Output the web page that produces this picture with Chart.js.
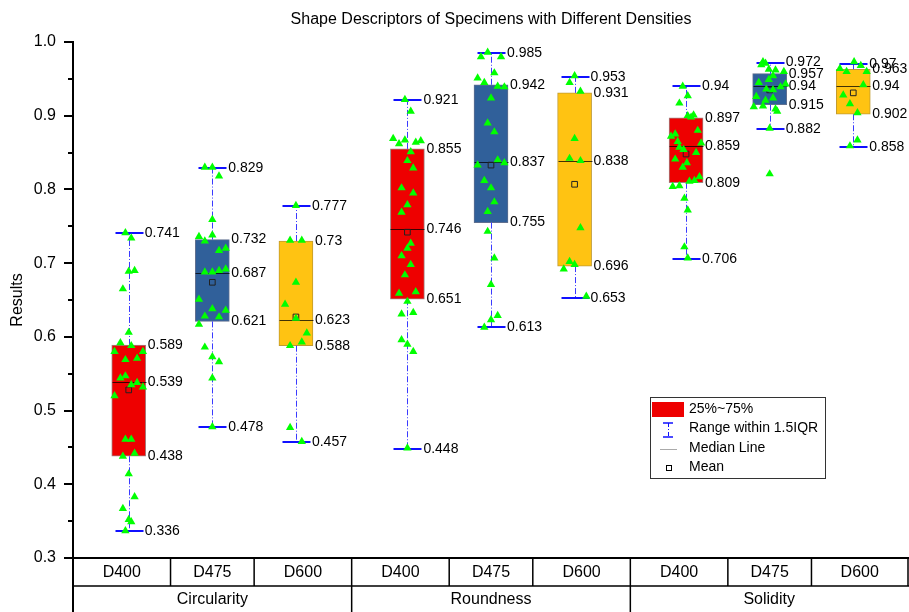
<!DOCTYPE html>
<html>
<head>
<meta charset="utf-8">
<script src="https://cdn.jsdelivr.net/npm/chart.js@4.4.1/dist/chart.umd.min.js"></script>
<style>
  html, body { margin: 0; padding: 0; background: #fff; }
</style>
</head>
<body>
<canvas id="boxChart" width="909" height="612"></canvas>
<script>
// categories
const groupNames = ['Circularity', 'Roundness', 'Solidity'];
const densityNames = ['D400', 'D475', 'D600'];

// box statistics, one value per box (group by group, D400/D475/D600)
const whiskerLow  = [0.336, 0.478, 0.457, 0.448, 0.613, 0.653, 0.706, 0.882, 0.858];
const q1          = [0.438, 0.621, 0.588, 0.651, 0.755, 0.696, 0.809, 0.915, 0.902];
const median      = [0.539, 0.687, 0.623, 0.746, 0.837, 0.838, 0.859, 0.94, 0.94];
const q3          = [0.589, 0.732, 0.73, 0.855, 0.942, 0.931, 0.897, 0.957, 0.963];
const whiskerHigh = [0.741, 0.829, 0.777, 0.921, 0.985, 0.953, 0.94, 0.972, 0.97];
const means       = [0.528, 0.674, 0.627, 0.742, 0.833, 0.807, 0.848, 0.935, 0.931];

// raw measurements drawn as triangles
const samples = [
  [0.741, 0.734, 0.689, 0.690, 0.665, 0.606, 0.592, 0.588, 0.580, 0.580, 0.569, 0.571, 0.544, 0.547,
   0.535, 0.538, 0.532, 0.520, 0.461, 0.461, 0.438, 0.442, 0.414, 0.383, 0.367, 0.352, 0.349, 0.337],
  [0.830, 0.830, 0.818, 0.759, 0.736, 0.738, 0.730, 0.717, 0.720, 0.688, 0.688, 0.690, 0.692, 0.651,
   0.638, 0.636, 0.628, 0.627, 0.617, 0.586, 0.573, 0.566, 0.544, 0.478],
  [0.778, 0.731, 0.731, 0.674, 0.644, 0.625, 0.605, 0.593, 0.588, 0.477, 0.458],
  [0.922, 0.906, 0.869, 0.862, 0.867, 0.864, 0.866, 0.851, 0.839, 0.829, 0.802, 0.795, 0.779, 0.769,
   0.727, 0.720, 0.710, 0.698, 0.684, 0.659, 0.661, 0.648, 0.631, 0.633, 0.596, 0.590, 0.580, 0.449],
  [0.980, 0.986, 0.980, 0.958, 0.951, 0.945, 0.940, 0.939, 0.924, 0.890, 0.878, 0.833, 0.840, 0.836,
   0.812, 0.802, 0.783, 0.770, 0.743, 0.707, 0.671, 0.629, 0.623, 0.613],
  [0.954, 0.945, 0.933, 0.869, 0.842, 0.839, 0.748, 0.702, 0.698, 0.692, 0.655],
  [0.940, 0.927, 0.917, 0.900, 0.901, 0.898, 0.880, 0.872, 0.875, 0.865, 0.863, 0.857, 0.854, 0.850,
   0.841, 0.836, 0.830, 0.817, 0.811, 0.812, 0.804, 0.805, 0.788, 0.772, 0.722, 0.707],
  [0.973, 0.971, 0.969, 0.963, 0.962, 0.960, 0.954, 0.949, 0.945, 0.943, 0.939, 0.936, 0.935, 0.926,
   0.921, 0.924, 0.912, 0.913, 0.909, 0.906, 0.883, 0.821],
  [0.973, 0.968, 0.964, 0.960, 0.960, 0.942, 0.928, 0.916, 0.904, 0.867, 0.859]
];

// horizontal spread of the triangles around each box centre (x-axis units)
const jitter = [
  [-0.04, 0.03, 0, 0.07, -0.07, 0, -0.10, 0.03, -0.17, 0.17, -0.04, 0.10, -0.10, -0.04,
   0.03, 0.10, 0.17, -0.17, -0.04, 0.03, -0.07, 0.07, 0, 0.07, -0.07, 0, 0.03, -0.04],
  [-0.09, 0, 0.08, 0, -0.16, 0, -0.09, 0.08, 0.16, -0.09, 0, 0.08, 0.16, -0.16,
   0, 0.16, -0.09, 0.08, -0.16, -0.09, 0, 0.08, 0, 0],
  [0, -0.07, 0.07, 0, -0.13, 0, 0.13, 0.07, -0.07, -0.07, 0.07],
  [-0.03, 0.04, -0.17, -0.10, -0.03, 0.10, 0.16, 0.04, 0, 0.07, -0.07, 0.07, 0, -0.07,
   0.04, 0, -0.07, 0.04, -0.03, -0.10, 0.10, 0, -0.07, 0.07, -0.07, 0, 0.07, 0],
  [-0.12, -0.04, 0.12, 0.04, -0.16, -0.08, 0.08, 0.16, 0, -0.04, 0.04, -0.16, 0.08, 0.16,
   -0.08, 0, 0.04, -0.04, -0.04, 0.04, 0, 0.08, 0, -0.08],
  [0, -0.06, 0.07, 0, -0.06, 0.07, 0.07, -0.06, 0, -0.13, 0.14],
  [-0.04, 0.02, -0.08, 0.02, 0.09, 0.06, 0.14, -0.18, -0.13, -0.10, 0.18, -0.08, -0.03, 0.12,
   -0.13, 0.01, -0.04, 0.16, 0.04, 0.10, -0.16, -0.08, -0.02, 0.02, -0.02, 0.02],
  [-0.08, -0.05, -0.10, -0.01, 0.07, 0.17, 0.04, -0.01, -0.13, 0.19, 0.13, -0.04, 0.04, -0.16,
   -0.05, 0.04, -0.19, -0.08, 0.07, 0.09, 0, 0],
  [0.01, 0.09, -0.16, -0.08, 0.16, 0.12, -0.12, -0.04, 0.05, 0.05, -0.04]
];

const FONT = 'Arial, "Liberation Sans", sans-serif';
const titleText = 'Shape Descriptors of Specimens with Different Densities';
const boxFill = ['#ee0000', '#30609a', '#ffc312'];
const boxEdge = ['#a08080', '#607090', '#c09a30'];

// box centre on the x axis: three groups with a wider gap between them
const boxX = (i) => Math.floor(i / 3) * 10 / 3 + (i % 3) + 1;

const fmt = (v) => String(v);

const boxExtras = {
  id: 'boxExtras',
  // whiskers and medians go on top of the boxes but under the points
  afterDatasetDraw(chart, args) {
    if (args.index !== 2) return;
    const { ctx, scales: { x, y } } = chart;
    ctx.save();
    q1.forEach((_, i) => {
      const cx = Math.round(x.getPixelForValue(boxX(i))) + 0.5;
      const pLow = y.getPixelForValue(whiskerLow[i]);
      const pHigh = y.getPixelForValue(whiskerHigh[i]);
      const pQ1 = y.getPixelForValue(q1[i]);
      const pQ3 = y.getPixelForValue(q3[i]);
      const pMed = Math.round(y.getPixelForValue(median[i])) + 0.5;

      ctx.strokeStyle = '#3a3aff';
      ctx.lineWidth = 1;
      ctx.setLineDash([6, 2, 1, 2]);
      ctx.beginPath();
      ctx.moveTo(cx, pQ3); ctx.lineTo(cx, pHigh);
      ctx.moveTo(cx, pQ1); ctx.lineTo(cx, pLow);
      ctx.stroke();

      ctx.setLineDash([]);
      ctx.strokeStyle = '#1010ff';
      ctx.lineWidth = 2;
      ctx.beginPath();
      ctx.moveTo(cx - 14, Math.round(pHigh)); ctx.lineTo(cx + 14, Math.round(pHigh));
      ctx.moveTo(cx - 14, Math.round(pLow)); ctx.lineTo(cx + 14, Math.round(pLow));
      ctx.stroke();

      ctx.strokeStyle = 'rgba(0,0,0,0.75)';
      ctx.lineWidth = 1;
      ctx.beginPath();
      ctx.moveTo(cx - 17, pMed); ctx.lineTo(cx + 17, pMed);
      ctx.stroke();
    });
    ctx.restore();
  },
  afterDraw(chart) {
    const { ctx, chartArea: area, scales: { x, y } } = chart;
    ctx.save();
    ctx.fillStyle = '#000';
    ctx.textBaseline = 'middle';

    // title
    ctx.font = '16px ' + FONT;
    ctx.textAlign = 'center';
    ctx.fillText(titleText, (area.left + area.right) / 2, 20);

    // y ticks, major and minor
    ctx.strokeStyle = '#000';
    ctx.lineWidth = 2;
    ctx.beginPath();
    for (let k = 0; k <= 14; k++) {
      const py = Math.round(y.getPixelForValue(0.3 + k * 0.05));
      const len = k % 2 === 0 ? 9 : 5;
      ctx.moveTo(area.left - len, py);
      ctx.lineTo(area.left, py);
    }
    ctx.stroke();

    // value labels beside each box
    ctx.font = '14px ' + FONT;
    ctx.textAlign = 'left';
    q1.forEach((_, i) => {
      const cx = x.getPixelForValue(boxX(i));
      [whiskerHigh[i], whiskerLow[i]].forEach(v => ctx.fillText(fmt(v), cx + 16, y.getPixelForValue(v)));
      [q3[i], median[i], q1[i]].forEach(v => ctx.fillText(fmt(v), cx + 19, y.getPixelForValue(v)));
    });

    // category table under the axis
    const centres = q1.map((_, i) => x.getPixelForValue(boxX(i)));
    const edges = [area.left];
    for (let i = 0; i < centres.length - 1; i++) edges.push((centres[i] + centres[i + 1]) / 2);
    edges.push(area.right - 1);
    const rowY = area.bottom + 28;
    ctx.lineWidth = 1.5;
    ctx.beginPath();
    ctx.moveTo(area.left, rowY); ctx.lineTo(area.right, rowY);
    edges.forEach(e => { ctx.moveTo(e, area.bottom); ctx.lineTo(e, rowY); });
    [0, 3, 6].forEach(k => { ctx.moveTo(edges[k], rowY); ctx.lineTo(edges[k], chart.height); });
    ctx.stroke();
    ctx.lineWidth = 2;
    ctx.beginPath();
    ctx.moveTo(area.left, area.bottom); ctx.lineTo(area.left, chart.height);
    ctx.stroke();

    ctx.font = '16px ' + FONT;
    ctx.textAlign = 'center';
    centres.forEach((_, i) => {
      ctx.fillText(densityNames[i % 3], (edges[i] + edges[i + 1]) / 2, area.bottom + 15);
    });
    groupNames.forEach((g, k) => {
      ctx.fillText(g, (edges[k * 3] + edges[k * 3 + 3]) / 2, rowY + 14);
    });

    // legend
    const lx = 650, ly = 397;
    ctx.strokeStyle = '#333';
    ctx.lineWidth = 1;
    ctx.strokeRect(lx + 0.5, ly + 0.5, 175, 81);
    ctx.fillStyle = boxFill[0];
    ctx.fillRect(lx + 2, ly + 5, 32, 15);

    ctx.strokeStyle = '#1010ff';
    ctx.lineWidth = 1.5;
    ctx.beginPath();
    ctx.moveTo(lx + 13, ly + 26); ctx.lineTo(lx + 23, ly + 26);
    ctx.moveTo(lx + 13, ly + 40); ctx.lineTo(lx + 23, ly + 40);
    ctx.stroke();
    ctx.lineWidth = 1;
    ctx.setLineDash([4, 2, 1, 2]);
    ctx.beginPath();
    ctx.moveTo(lx + 18.5, ly + 26); ctx.lineTo(lx + 18.5, ly + 40);
    ctx.stroke();
    ctx.setLineDash([]);

    ctx.strokeStyle = '#aaa';
    ctx.beginPath();
    ctx.moveTo(lx + 10, ly + 52.5); ctx.lineTo(lx + 27, ly + 52.5);
    ctx.stroke();

    ctx.strokeStyle = '#000';
    ctx.strokeRect(lx + 16.5, ly + 68.5, 5, 5);

    ctx.fillStyle = '#000';
    ctx.font = '14px ' + FONT;
    ctx.textAlign = 'left';
    ['25%~75%', 'Range within 1.5IQR', 'Median Line', 'Mean'].forEach((t, k) => {
      ctx.fillText(t, lx + 39, ly + 12 + k * 19.5);
    });
    ctx.restore();
  }
};

const pointData = samples.flatMap((vals, i) => vals.map((v, k) => ({ x: boxX(i) + jitter[i][k], y: v })));
const meanData = means.map((v, i) => ({ x: boxX(i), y: v }));
const boxData = q1.map((v, i) => ({ x: boxX(i), y: [v, q3[i]] }));

Chart.defaults.font.family = FONT;
Chart.defaults.color = '#000';

new Chart(document.getElementById('boxChart'), {
  type: 'bar',
  data: {
    datasets: [
      {
        type: 'scatter',
        data: pointData,
        showLine: false,
        pointStyle: 'triangle',
        pointRadius: 4.8,
        backgroundColor: '#00ff00',
        borderColor: '#00ff00',
        borderWidth: 0
      },
      {
        type: 'scatter',
        data: meanData,
        showLine: false,
        pointStyle: 'rect',
        pointRadius: 4,
        backgroundColor: 'rgba(0,0,0,0)',
        borderColor: '#222',
        borderWidth: 1
      },
      {
        type: 'bar',
        data: boxData,
        barThickness: 34,
        backgroundColor: q1.map((_, i) => boxFill[i % 3]),
        borderColor: q1.map((_, i) => boxEdge[i % 3]),
        borderWidth: 1,
        borderSkipped: false
      }
    ]
  },
  options: {
    responsive: false,
    animation: false,
    devicePixelRatio: 1,
    events: [],
    layout: { autoPadding: false, padding: { top: 42, left: 0, right: 0, bottom: 0 } },
    plugins: {
      legend: { display: false },
      tooltip: { enabled: false },
      title: { display: false }
    },
    scales: {
      x: {
        type: 'linear',
        min: 1 / 3,
        max: 31 / 3,
        offset: false,
        ticks: { display: false },
        grid: { display: false, drawTicks: false, offset: false },
        border: { display: true, color: '#000', width: 2 },
        afterFit(s) { s.height = 54; }
      },
      y: {
        min: 0.3,
        max: 1.0,
        ticks: {
          stepSize: 0.1,
          padding: 17,
          font: { size: 16 },
          color: '#000',
          callback: (v) => v.toFixed(1)
        },
        grid: { display: false, drawTicks: false },
        border: { display: true, color: '#000', width: 2 },
        title: { display: true, text: 'Results', font: { size: 16 }, color: '#000', padding: { top: 8, bottom: 0 } },
        afterFit(s) { s.width = 73; }
      }
    }
  },
  plugins: [boxExtras]
});
</script>
</body>
</html>
